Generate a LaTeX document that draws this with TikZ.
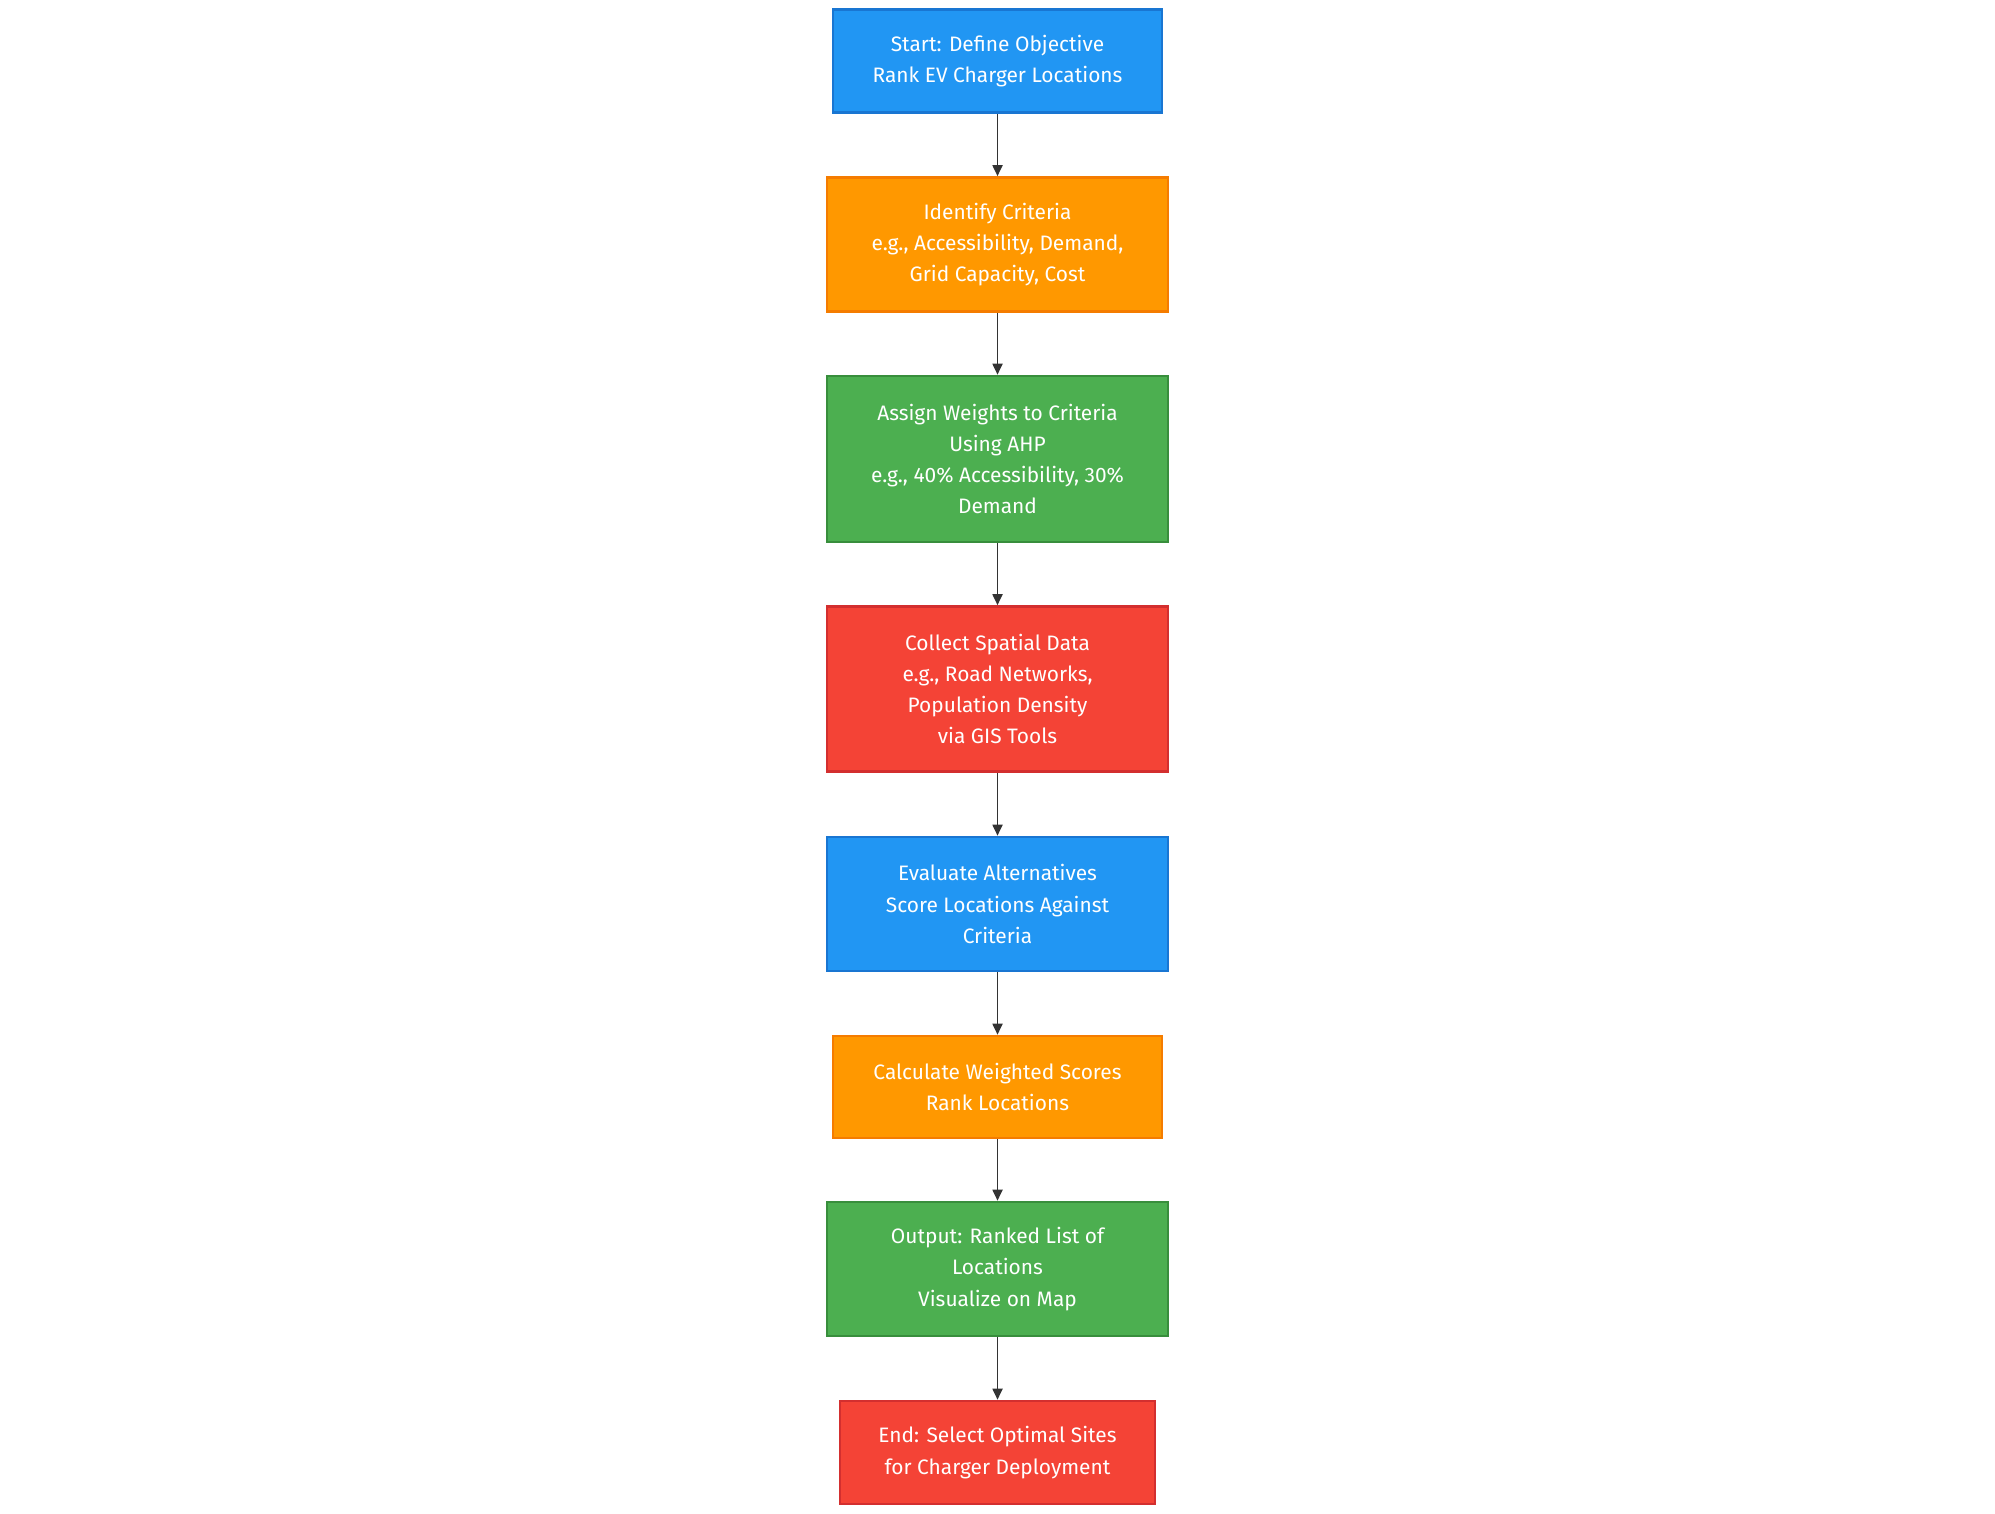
\documentclass[tikz,border=0pt]{standalone}
\usepackage{fontspec}
\setmainfont{Fira Sans}
\usetikzlibrary{arrows.meta}
\definecolor{cblue}{HTML}{2196F3}\definecolor{cblueb}{HTML}{1976D2}
\definecolor{corange}{HTML}{FF9800}\definecolor{coranb}{HTML}{F57C00}
\definecolor{cgreen}{HTML}{4CAF50}\definecolor{cgreenb}{HTML}{388E3C}
\definecolor{cred}{HTML}{F44336}\definecolor{credb}{HTML}{D32F2F}
\definecolor{carrow}{HTML}{333333}
\tikzset{
  box/.style={rectangle, line width=2.6pt, text=white, align=center, inner sep=0pt,
    font=\fontsize{20.9}{31.2}\selectfont},
  bluebox/.style={box, fill=cblue, draw=cblueb},
  orangebox/.style={box, fill=corange, draw=coranb},
  greenbox/.style={box, fill=cgreen, draw=cgreenb},
  redbox/.style={box, fill=cred, draw=credb},
  conn/.style={draw=carrow, line width=1.8pt, -{Triangle[length=11pt,width=10pt]}}
}
\begin{document}
\begin{tikzpicture}[x=1pt,y=-1pt]
\useasboundingbox (0,0) rectangle (1995,1514);
\node[bluebox, minimum width=329, minimum height=103] (n1) at (997.5,61) {Start: Define Objective\\Rank EV Charger Locations};
\node[orangebox, minimum width=341, minimum height=134] (n2) at (997.5,244.5) {Identify Criteria\\e.g., Accessibility, Demand,\\Grid Capacity, Cost};
\node[greenbox, minimum width=341, minimum height=166] (n3) at (997.5,459) {Assign Weights to Criteria\\Using AHP\\e.g., 40\% Accessibility, 30\%\\Demand};
\node[redbox, minimum width=341, minimum height=165] (n4) at (997.5,689) {Collect Spatial Data\\e.g., Road Networks,\\Population Density\\via GIS Tools};
\node[bluebox, minimum width=341, minimum height=134] (n5) at (997.5,904) {Evaluate Alternatives\\Score Locations Against\\Criteria};
\node[orangebox, minimum width=329, minimum height=102] (n6) at (997.5,1087) {Calculate Weighted Scores\\Rank Locations};
\node[greenbox, minimum width=341, minimum height=134] (n7) at (997.5,1269) {Output: Ranked List of\\Locations\\Visualize on Map};
\node[redbox, minimum width=315, minimum height=103] (n8) at (997.5,1452.5) {End: Select Optimal Sites\\for Charger Deployment};
\draw[conn] (n1) -- (n2);
\draw[conn] (n2) -- (n3);
\draw[conn] (n3) -- (n4);
\draw[conn] (n4) -- (n5);
\draw[conn] (n5) -- (n6);
\draw[conn] (n6) -- (n7);
\draw[conn] (n7) -- (n8);
\end{tikzpicture}
\end{document}
